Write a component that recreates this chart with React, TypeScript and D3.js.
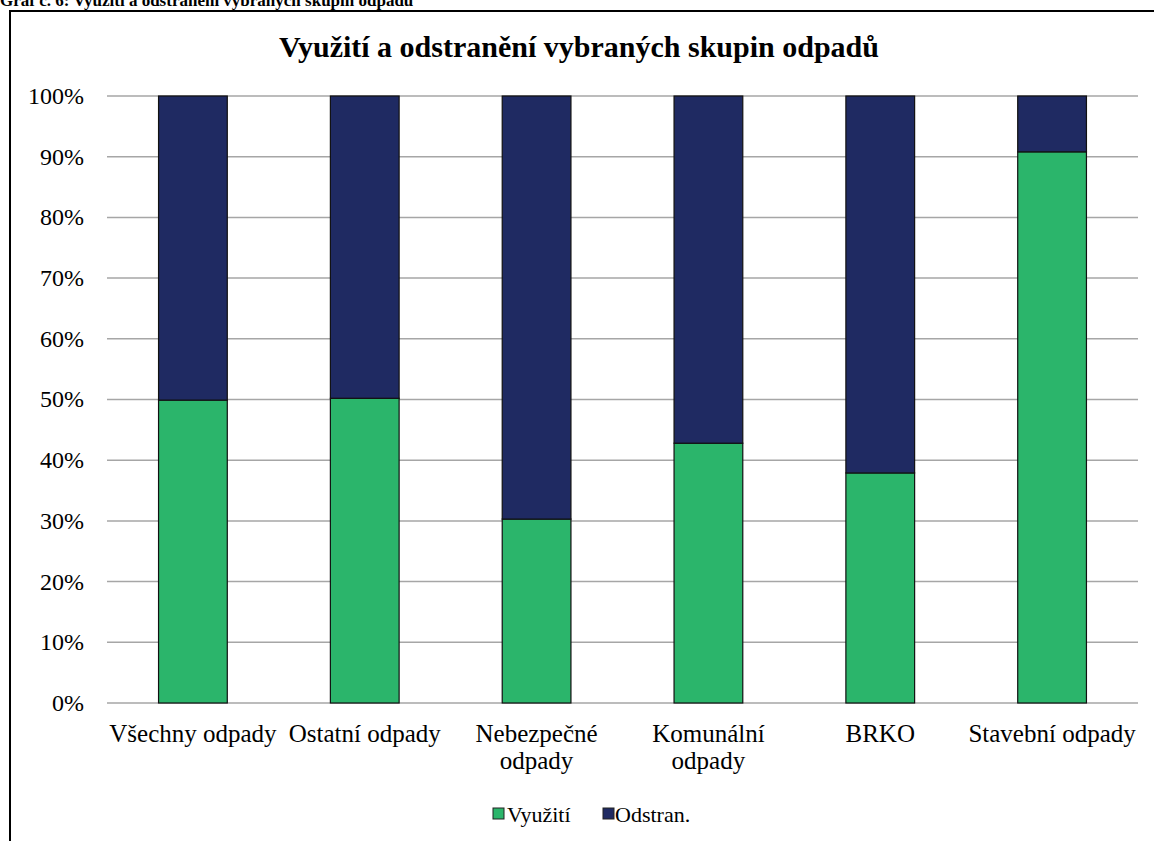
import { scaleBand, scaleLinear, stack } from "d3";

const categories = [
  "Všechny odpady",
  "Ostatní odpady",
  "Nebezpečné odpady",
  "Komunální odpady",
  "BRKO",
  "Stavební odpady",
];
const categoryLines = [
  ["Všechny odpady"],
  ["Ostatní odpady"],
  ["Nebezpečné", "odpady"],
  ["Komunální", "odpady"],
  ["BRKO"],
  ["Stavební odpady"],
];
const vyuziti = [0.499, 0.502, 0.303, 0.428, 0.379, 0.908];
const odstran = vyuziti.map((v) => 1 - v);
const seriesNames = ["Využití", "Odstran."];
const seriesColors = ["#2bb56b", "#1f2a62"];
const yTicks = [0, 0.1, 0.2, 0.3, 0.4, 0.5, 0.6, 0.7, 0.8, 0.9, 1];

const App = () => {
  const width = 1154;
  const height = 841;
  const left = 107;
  const right = 1138;
  const top = 96;
  const bottom = 703;
  const font = "Liberation Serif, DejaVu Serif, serif";

  const x = scaleBand().domain(categories).range([left, right]).paddingInner(0.6).paddingOuter(0.3);
  const y = scaleLinear().domain([0, 1]).range([bottom, top]);

  const rows = categories.map((c, i) => ({ cat: c, v: vyuziti[i], o: odstran[i] }));
  const layers = stack<any>().keys(["v", "o"])(rows);

  return (
    <svg
      width={width}
      height={height}
      style={{ position: "absolute", left: 0, top: 0, background: "#fff", fontFamily: font }}
    >
      <text x={0} y={6} fontSize={17} fontWeight="bold" style={{ fontFamily: font }}>
        Graf č. 6: Využití a odstranění vybraných skupin odpadů
      </text>
      <line x1={10} x2={width} y1={11} y2={11} stroke="#000" strokeWidth={2} />
      <line x1={10} x2={10} y1={10} y2={height} stroke="#000" strokeWidth={2} />

      <text x={579} y={57} textAnchor="middle" fontSize={30} fontWeight="bold" style={{ fontFamily: font }}>
        Využití a odstranění vybraných skupin odpadů
      </text>

      {yTicks.map((t) => (
        <g key={t}>
          <line x1={left} x2={right} y1={y(t)} y2={y(t)} stroke="#a6a6a6" strokeWidth={1.5} />
          <text x={84} y={y(t)} dy="0.33em" textAnchor="end" fontSize={24} style={{ fontFamily: font }}>
            {Math.round(t * 100)}%
          </text>
        </g>
      ))}

      {layers.map((layer, li) => (
        <g key={li} fill={seriesColors[li]} stroke="#111" strokeWidth={1.2}>
          {layer.map((d: any) => (
            <rect
              key={d.data.cat}
              x={x(d.data.cat)}
              width={x.bandwidth()}
              y={y(d[1])}
              height={y(d[0]) - y(d[1])}
            />
          ))}
        </g>
      ))}

      {categories.map((c, i) => (
        <text
          key={c}
          x={(x(c) as number) + x.bandwidth() / 2}
          y={742}
          textAnchor="middle"
          fontSize={25}
          style={{ fontFamily: font }}
        >
          {categoryLines[i].map((l, j) => (
            <tspan key={j} x={(x(c) as number) + x.bandwidth() / 2} dy={j === 0 ? 0 : 27}>
              {l}
            </tspan>
          ))}
        </text>
      ))}

      <g fontSize={22} style={{ fontFamily: font }}>
        <rect x={493} y={808} width={11} height={11} fill={seriesColors[0]} stroke="#222" />
        <text x={507} y={822}>{seriesNames[0]}</text>
        <rect x={603} y={808} width={11} height={11} fill={seriesColors[1]} stroke="#222" />
        <text x={615} y={822}>{seriesNames[1]}</text>
      </g>
    </svg>
  );
};

export default App;
